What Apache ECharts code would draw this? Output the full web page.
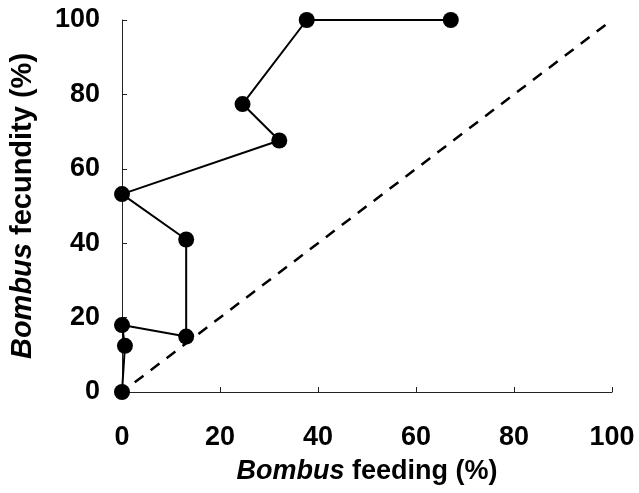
<!DOCTYPE html>
<html>
<head>
<meta charset="utf-8">
<script src="https://cdn.jsdelivr.net/npm/echarts@6/dist/echarts.min.js"></script>
<style>
  html, body { margin: 0; padding: 0; background: #fff; }
  #main { width: 639px; height: 493px; }
</style>
</head>
<body>
<div id="main"></div>
<script>
// values
var feeding = [0, 0.6, 0, 13.1, 13.1, 0, 32.1, 24.6, 37.7, 67.1];
var fecundity = [0, 12.4, 18.0, 14.9, 41.0, 53.2, 67.6, 77.4, 100, 100];
var diagX = [0, 100];
var diagY = [0, 100];
var ticks = [0, 20, 40, 60, 80, 100];

var myChart = echarts.init(document.getElementById('main'));

var pts = feeding.map(function (x, i) { return [x, fecundity[i]]; });
var diag = diagX.map(function (x, i) { return [x, diagY[i]]; });

var font = 'Liberation Sans, Arial, sans-serif';
function nameStyle(size) {
    return {
        color: '#000', fontSize: size, fontWeight: 'bold', fontFamily: font,
        rich: { i: { fontStyle: 'italic', fontWeight: 'bold', fontSize: size, fontFamily: font, color: '#000' } }
    };
}
var axisCommon = {
    type: 'value',
    min: ticks[0],
    max: ticks[ticks.length - 1],
    interval: 20,
    splitLine: { show: false },
    axisLine: { show: true, lineStyle: { color: '#222', width: 1 } },
    axisTick: { show: true, inside: true, length: 5, lineStyle: { color: '#222' } },
    axisLabel: { color: '#000', fontSize: 27, fontWeight: 'bold', fontFamily: font },
    nameLocation: 'middle'
};

var option = {
    animation: false,
    backgroundColor: '#fff',
    grid: { left: 122, right: 27, top: 20, bottom: 101, containLabel: false },
    xAxis: Object.assign({}, axisCommon, {
        name: '{i|Bombus} feeding (%)',
        nameGap: 66,
        nameTextStyle: nameStyle(27),
        axisLabel: Object.assign({}, axisCommon.axisLabel, { margin: 32 })
    }),
    yAxis: Object.assign({}, axisCommon, {
        name: '{i|Bombus} fecundity (%)',
        nameGap: 85,
        nameTextStyle: nameStyle(29),
        axisLabel: Object.assign({}, axisCommon.axisLabel, { margin: 22 })
    }),
    series: [
        {
            type: 'line',
            data: diag,
            symbol: 'none',
            clip: false,
            lineStyle: { color: '#000', width: 2.5, type: [11, 9], dashOffset: 4 },
            silent: true
        },
        {
            type: 'line',
            data: pts,
            symbol: 'circle',
            symbolSize: 16,
            clip: false,
            itemStyle: { color: '#000' },
            lineStyle: { color: '#000', width: 2 }
        }
    ]
};

myChart.setOption(option);
</script>
</body>
</html>
